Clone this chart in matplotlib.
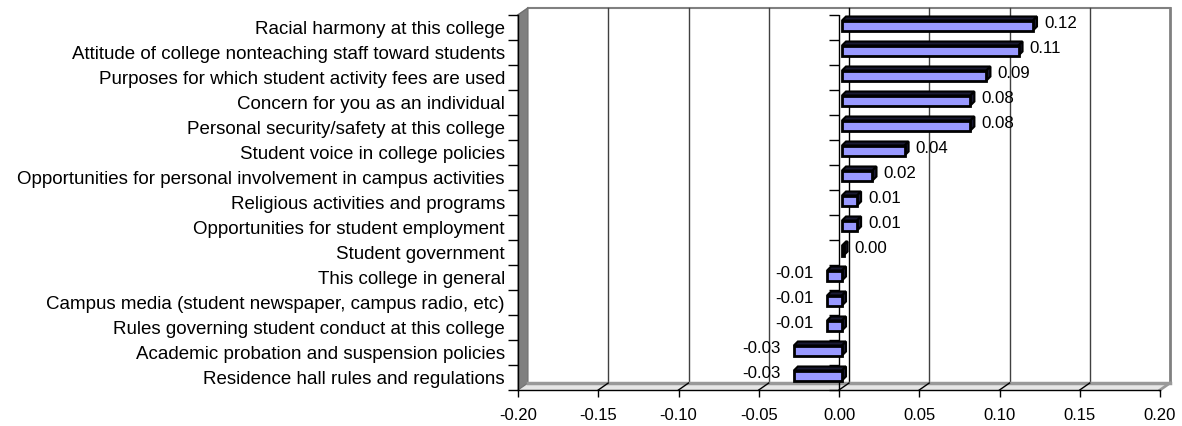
import matplotlib
matplotlib.use("Agg")
import matplotlib.pyplot as plt
import numpy as np
from matplotlib.patches import Polygon
from matplotlib.transforms import IdentityTransform, ScaledTranslation
from matplotlib.lines import Line2D

plt.rcParams['font.family'] = ['Liberation Sans', 'DejaVu Sans']

categories = [
    "Racial harmony at this college",
    "Attitude of college nonteaching staff toward students",
    "Purposes for which student activity fees are used",
    "Concern for you as an individual",
    "Personal security/safety at this college",
    "Student voice in college policies",
    "Opportunities for personal involvement in campus activities",
    "Religious activities and programs",
    "Opportunities for student employment",
    "Student government",
    "This college in general",
    "Campus media (student newspaper, campus radio, etc)",
    "Rules governing student conduct at this college",
    "Academic probation and suspension policies",
    "Residence hall rules and regulations",
]
values = [0.119, 0.110, 0.090, 0.080, 0.080, 0.039, 0.019, 0.0094, 0.0094,
          0.001, -0.0093, -0.0093, -0.0093, -0.030, -0.030]
xticks = [-0.20, -0.15, -0.10, -0.05, 0.00, 0.05, 0.10, 0.15, 0.20]

W, H, DPI = 1182, 426, 100
fig = plt.figure(figsize=(W / DPI, H / DPI), dpi=DPI)
ax = fig.add_axes([518 / W, 36 / H, 642 / W, 375 / H])
ax.set_xlim(-0.2, 0.2)
ax.set_ylim(len(categories) - 0.5, -0.5)
ax.patch.set_visible(False)

# wall depth (pixels) and bar depth
DX, DY = 10, 7
OX, OY = 3, 2
BDX, BDY = 4, 4
ident = IdentityTransform()


def px(x, y):
    return np.array(ax.transData.transform((x, y)))


def pa(x, y):
    return np.array(ax.transAxes.transform((x, y)))


def poly(pts, **kw):
    p = Polygon(pts, closed=True, transform=ident, clip_on=False, **kw)
    ax.add_patch(p)


def seg(p0, p1, **kw):
    ax.add_line(Line2D([p0[0], p1[0]], [p0[1], p1[1]], transform=ident,
                       clip_on=False, **kw))


d = np.array([DX, DY])
# back wall outline
seg(pa(0, 1) + d, pa(1, 1) + d, color='#808080', lw=1.5, zorder=0.3)
seg(pa(1, 0) + d, pa(1, 1) + d, color='#808080', lw=2, zorder=0.3)
seg(pa(0, 1), pa(0, 1) + d, color='#808080', lw=1.2, zorder=0.3)
# floor
poly([pa(0, 0), pa(1, 0), pa(1, 0) + d, pa(0, 0) + d],
     facecolor='#e6e6e6', edgecolor='none', zorder=0.2)
seg(pa(0, 0) + d, pa(1, 0) + d, color='#999999', lw=2.5, zorder=0.6)
seg(pa(1, 0), pa(1, 0) + d, color='#999999', lw=2, zorder=0.6)
# left wall
poly([pa(0, 0), pa(0, 1), pa(0, 1) + d, pa(0, 0) + d],
     facecolor='#808080', edgecolor='#707070', lw=0.8, zorder=0.4)

# gridlines on the back wall and floor
for xv in xticks[1:-1]:
    c = 'black' if xv == 0 else '#404040'
    seg(px(xv, len(categories) - 0.5) + d, px(xv, -0.5) + d, color=c, lw=1, zorder=0.5)
    seg(px(xv, len(categories) - 0.5), px(xv, len(categories) - 0.5) + d,
        color='black', lw=1, zorder=0.7)

# category axis at zero
ypos = np.arange(len(categories))
bounds = np.arange(len(categories) + 1) - 0.5
ax.axvline(0, color='black', lw=1, zorder=1)
ax.plot(np.zeros(len(bounds)), bounds, marker=0, markersize=7.2,
        linestyle='none', color='black', markeredgewidth=1, zorder=1, clip_on=False)

# bars: front faces
bars = ax.barh(ypos, values, height=0.4, color='#9999ff', edgecolor='black',
               linewidth=2, zorder=3)
off = ScaledTranslation(OX / DPI, OY / DPI, fig.dpi_scale_trans)
for b in bars:
    b.set_transform(ax.transData + off)

# bars: top and side faces
o = np.array([OX, OY])
bd = np.array([BDX, BDY])
for i, v in enumerate(values):
    lft, rgt = min(v, 0), max(v, 0)
    tl = px(lft, i - 0.2) + o
    tr = px(rgt, i - 0.2) + o
    br = px(rgt, i + 0.2) + o
    poly([tl, tr, tr + bd, tl + bd], facecolor='#1a1a33', edgecolor='black',
         lw=1.5, zorder=2.9)
    poly([tr, br, br + bd, tr + bd], facecolor='#1a1a33', edgecolor='black',
         lw=1.5, zorder=2.95)

# value labels
for i, v in enumerate(values):
    if v >= 0:
        ax.annotate(f"{v:.2f}", (v, i), xytext=(14 / DPI * 72, 4 / DPI * 72),
                    textcoords='offset points', ha='left', va='center',
                    fontsize=12.2, zorder=4)
    else:
        ax.annotate(f"{v:.2f}", (v, i), xytext=(-10 / DPI * 72, 4 / DPI * 72),
                    textcoords='offset points', ha='right', va='center',
                    fontsize=12.2, zorder=4)

# axes, ticks, labels
ax.spines['top'].set_visible(False)
ax.spines['right'].set_visible(False)
ax.spines['left'].set_linewidth(1)
ax.spines['bottom'].set_linewidth(1)
ax.set_yticks(ypos)
ax.set_yticklabels(categories, fontsize=13.5)
ax.set_yticks(bounds, minor=True)
ax.tick_params(axis='y', which='major', length=0, pad=9.4)
ax.tick_params(axis='y', which='minor', length=7.2, width=1)
ax.set_xticks(xticks)
ax.set_xticklabels([f"{t:.2f}" for t in xticks], fontsize=12)
ax.tick_params(axis='x', length=5, width=1, pad=8)

fig.savefig("out.png", dpi=DPI)
